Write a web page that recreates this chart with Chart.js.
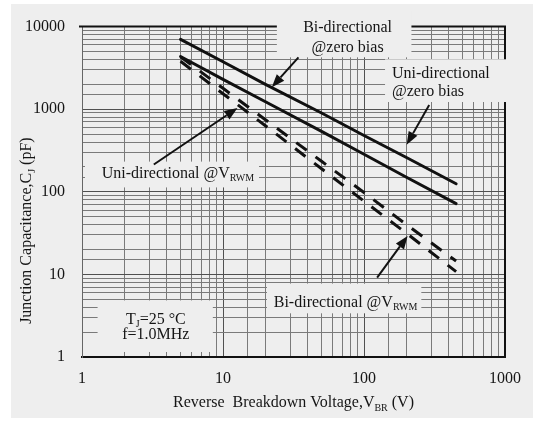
<!DOCTYPE html>
<html>
<head>
<meta charset="utf-8">
<script src="https://cdn.jsdelivr.net/npm/chart.js@4.4.1/dist/chart.umd.min.js"></script>
<style>
  body { margin: 0; background: #fff; }
  canvas { display: block; }
</style>
</head>
<body>
<canvas id="chart" width="533" height="421"></canvas>
<script>
// reverse breakdown voltage (V) and junction capacitance (pF)
const vbr = [5, 10, 20, 50, 100, 200, 450];
const uniZeroBias = [7000, 3750, 2000, 900, 480, 260, 125];
const biZeroBias = [4350, 2300, 1230, 540, 285, 150, 72];
const uniVrwm = [4300, 1790, 745, 234, 98, 40, 14.5];
const biVrwm = [3800, 1540, 630, 190, 77, 31.5, 10.8];

const xTickLabels = [1, 10, 100, 1000];
const yTickLabels = [1, 10, 100, 1000, 10000];

const serif = "'Liberation Serif', 'DejaVu Serif', serif";
const bg = "#eeeeee";
const ink = "#151515";

function isDecade(v) {
  const l = Math.log10(v);
  return Math.abs(l - Math.round(l)) < 1e-9;
}

function pts(ys) {
  return vbr.map((x, i) => ({ x: x, y: ys[i] }));
}

// callouts, placed in data units (V, pF)
const boxes = [
  [24.1, 217, 15560, 4246],
  [141, 1233, 4018, 1222],
  [1.05, 18.0, 232, 113],
  [20.5, 255, 7.74, 3.38],
  [1.29, 8.47, 4.84, 1.15]
];
const arrows = [
  [34.3, 4246, 22.2, 1849],
  [290, 1125, 200.6, 372],
  [3.23, 214, 12.66, 1035],
  [123.9, 9.14, 203.9, 29.2]
];
const labels = [
  { x: 76.5, y: 9727, align: "center", parts: [{ t: "Bi-directional" }] },
  { x: 76.5, y: 5596, align: "center", parts: [{ t: "@zero bias" }] },
  { x: 158, y: 2651, align: "left", parts: [{ t: "Uni-directional" }] },
  { x: 158, y: 1611, align: "left", parts: [{ t: "@zero bias" }] },
  { x: 1.38, y: 167, align: "left", parts: [{ t: "Uni-directional @V" }, { t: "RWM", sub: true }] },
  { x: 22.9, y: 4.58, align: "left", parts: [{ t: "Bi-directional @V" }, { t: "RWM", sub: true }] },
  { x: 3.34, y: 2.86, align: "center", parts: [{ t: "T" }, { t: "J", sub: true }, { t: "=25 \u00B0C" }] },
  { x: 3.34, y: 1.84, align: "center", parts: [{ t: "f=1.0MHz" }] }
];

function drawRich(ctx, parts, x, y, align, size) {
  const main = size + "px " + serif;
  const small = Math.round(size * 0.62) + "px " + serif;
  let w = 0;
  parts.forEach(p => {
    ctx.font = p.sub ? small : main;
    w += ctx.measureText(p.t).width;
  });
  let cx = align === "center" ? x - w / 2 : x;
  ctx.textBaseline = "middle";
  ctx.textAlign = "left";
  parts.forEach(p => {
    ctx.font = p.sub ? small : main;
    ctx.fillText(p.t, cx, p.sub ? y + 5 : y);
    cx += ctx.measureText(p.t).width;
  });
}

const decor = {
  id: "decor",
  beforeDraw(chart) {
    const ctx = chart.ctx;
    ctx.save();
    ctx.fillStyle = "#fff";
    ctx.fillRect(0, 0, chart.width, chart.height);
    ctx.fillStyle = bg;
    ctx.fillRect(11, 4, chart.width - 11, chart.height - 7);
    ctx.restore();
  },
  beforeDatasetsDraw(chart) {
    const ctx = chart.ctx;
    const a = chart.chartArea;
    const sx = chart.scales.x, sy = chart.scales.y;
    ctx.save();
    ctx.strokeStyle = "#111";
    ctx.lineWidth = 2;
    ctx.beginPath();
    ctx.moveTo(a.left - 3, a.top);
    ctx.lineTo(a.right, a.top);
    ctx.lineTo(a.right, a.bottom);
    ctx.stroke();
    ctx.fillStyle = bg;
    boxes.forEach(b => {
      const x0 = sx.getPixelForValue(b[0]), x1 = sx.getPixelForValue(b[1]);
      const y0 = sy.getPixelForValue(b[2]), y1 = sy.getPixelForValue(b[3]);
      ctx.fillRect(x0, y0, x1 - x0, y1 - y0);
    });
    ctx.restore();
  },
  afterDraw(chart) {
    const ctx = chart.ctx;
    const a = chart.chartArea;
    const sx = chart.scales.x, sy = chart.scales.y;
    ctx.save();
    ctx.strokeStyle = "#111";
    ctx.fillStyle = "#111";
    ctx.lineWidth = 2;
    arrows.forEach(r => {
      const x0 = sx.getPixelForValue(r[0]), y0 = sy.getPixelForValue(r[1]);
      const x1 = sx.getPixelForValue(r[2]), y1 = sy.getPixelForValue(r[3]);
      const ang = Math.atan2(y1 - y0, x1 - x0);
      const hl = 13, hw = 5;
      const bx = x1 - hl * Math.cos(ang), by = y1 - hl * Math.sin(ang);
      ctx.beginPath();
      ctx.moveTo(x0, y0);
      ctx.lineTo(bx, by);
      ctx.stroke();
      ctx.beginPath();
      ctx.moveTo(x1, y1);
      ctx.lineTo(bx + hw * Math.sin(ang), by - hw * Math.cos(ang));
      ctx.lineTo(bx - hw * Math.sin(ang), by + hw * Math.cos(ang));
      ctx.closePath();
      ctx.fill();
    });

    ctx.fillStyle = ink;
    labels.forEach(l => {
      drawRich(ctx, l.parts, sx.getPixelForValue(l.x), sy.getPixelForValue(l.y), l.align, 16);
    });

    // axis titles
    drawRich(ctx, [{ t: "Reverse  Breakdown Voltage,V" }, { t: "BR", sub: true }, { t: " (V)" }],
      (a.left + a.right) / 2, a.bottom + 46, "center", 16);
    ctx.translate(a.left - 55, a.top + 204);
    ctx.rotate(-Math.PI / 2);
    drawRich(ctx, [{ t: "Junction Capacitance,C" }, { t: "J", sub: true }, { t: " (pF)" }],
      0, 0, "center", 16);
    ctx.restore();
  }
};

function lineSet(label, ys, dashed) {
  return {
    label: label,
    data: pts(ys),
    borderColor: "#111",
    borderWidth: 3,
    borderDash: dashed ? [13, 11] : [],
    borderCapStyle: dashed ? "butt" : "round",
    pointRadius: 0,
    tension: 0,
    fill: false
  };
}

new Chart(document.getElementById("chart"), {
  type: "line",
  data: {
    datasets: [
      lineSet("Uni-directional @zero bias", uniZeroBias, false),
      lineSet("Bi-directional @zero bias", biZeroBias, false),
      lineSet("Uni-directional @VRWM", uniVrwm, true),
      lineSet("Bi-directional @VRWM", biVrwm, true)
    ]
  },
  options: {
    responsive: false,
    animation: false,
    devicePixelRatio: 1,
    layout: { padding: { top: 24, right: 21, left: 0, bottom: 0 } },
    plugins: { legend: { display: false }, tooltip: { enabled: false } },
    scales: {
      x: {
        type: "logarithmic",
        min: 1,
        max: 1000,
        afterFit: s => { s.height = 64; },
        grid: {
          color: c => isDecade(c.tick.value) ? "#505050" : "#7a7a7a",
          lineWidth: 1,
          drawTicks: false
        },
        border: { color: "#111", width: 2 },
        ticks: {
          autoSkip: false,
          maxRotation: 0,
          padding: 12,
          color: ink,
          font: { family: serif, size: 16 },
          callback: v => xTickLabels.some(t => Math.abs(t - v) < 1e-6) ? String(Math.round(v)) : ""
        }
      },
      y: {
        type: "logarithmic",
        min: 1,
        max: 10000,
        afterFit: s => { s.width = 82; },
        grid: {
          color: c => isDecade(c.tick.value) ? "#505050" : "#7a7a7a",
          lineWidth: 1,
          drawTicks: false
        },
        border: { color: "#666", width: 1 },
        ticks: {
          autoSkip: false,
          padding: 17,
          color: ink,
          font: { family: serif, size: 16 },
          callback: v => yTickLabels.some(t => Math.abs(t - v) < 1e-6) ? String(Math.round(v)) : ""
        }
      }
    }
  },
  plugins: [decor]
});
</script>
</body>
</html>
